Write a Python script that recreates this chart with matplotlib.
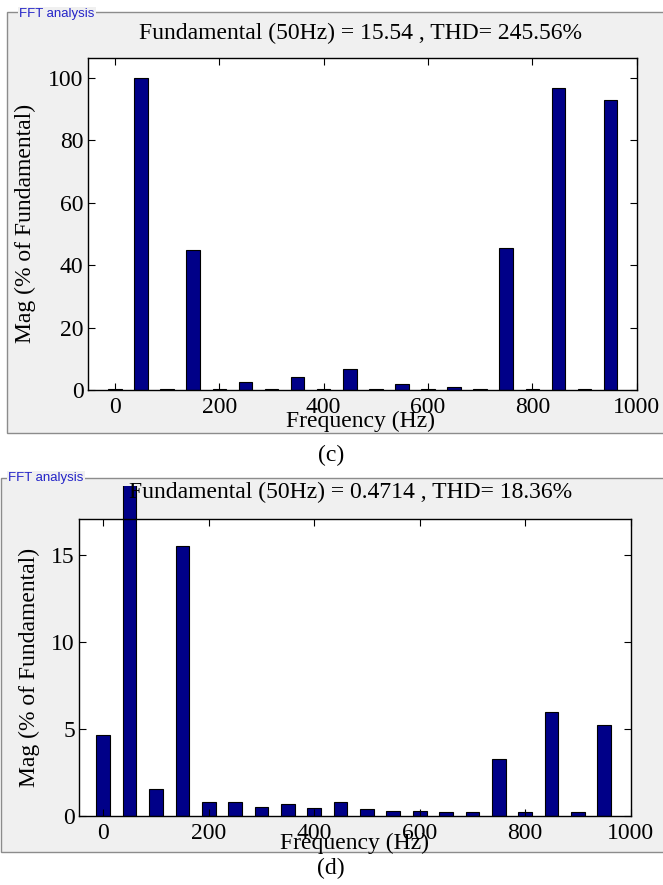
import matplotlib
matplotlib.use('Agg')
import matplotlib.pyplot as plt
from matplotlib.patches import Rectangle
from matplotlib.transforms import Bbox
import numpy as np

# harmonic frequencies (Hz)
freq = [0, 50, 100, 150, 200, 250, 300, 350, 400, 450,
        500, 550, 600, 650, 700, 750, 800, 850, 900, 950]

# (c) magnitudes, % of fundamental
mag_c = [0.4, 100, 0.3, 44.7, 0.3, 2.5, 0.3, 4.3, 0.3, 6.6,
         0.3, 2.0, 0.3, 1.0, 0.3, 45.6, 0.3, 96.8, 0.3, 92.8]
# (d) magnitudes, % of fundamental (50 Hz bar runs off the axes)
mag_d = [4.65, 100, 1.55, 15.5, 0.80, 0.80, 0.52, 0.67, 0.46, 0.80,
         0.38, 0.31, 0.31, 0.23, 0.23, 3.25, 0.23, 5.95, 0.23, 5.22]

title_c = "Fundamental (50Hz) = 15.54 , THD= 245.56%"
title_d = "Fundamental (50Hz) = 0.4714 , THD= 18.36%"

W, H = 663, 885
plt.rcParams['font.family'] = ['Liberation Serif', 'DejaVu Serif']

fig = plt.figure(figsize=(W / 100, H / 100), dpi=100)
fig.patch.set_facecolor('white')

def px_rect(x0, y0, x1, y1):
    # figure-fraction rect from pixel coords (origin top-left)
    return [x0 / W, 1 - y1 / H, (x1 - x0) / W, (y1 - y0) / H]

def group_box(x0, y0, x1, y1, lx, ly):
    r = px_rect(x0, y0, x1, y1)
    fig.add_artist(Rectangle((r[0], r[1]), r[2], r[3], transform=fig.transFigure,
                             facecolor='#f0f0f0', edgecolor='#8c8c8c', lw=1.0, zorder=0))
    fig.text(lx / W, 1 - ly / H, "FFT analysis", family='Liberation Sans', fontsize=9.5,
             color='#2424c8', ha='left', va='center', zorder=1,
             bbox=dict(facecolor='#f0f0f0', edgecolor='none', pad=1.0))

group_box(7, 12, 680, 432.7, 19, 14)
group_box(1, 478, 680, 852, 8, 478)

fig.text(331 / W, 1 - 455 / H, "(c)", fontsize=17, ha='center', va='center')
fig.text(331 / W, 1 - 868 / H, "(d)", fontsize=17, ha='center', va='center')

ax1 = fig.add_axes(px_rect(87.7, 57.7, 636.7, 390))
ax2 = fig.add_axes(px_rect(79, 519.3, 630.7, 816))

panels = [(ax1, mag_c, title_c, (-52.3, 1000), (0, 106.4), [0, 20, 40, 60, 80, 100],
           (0.496, 1.074), (-0.114, 0.5), (0.496, -0.096)),
          (ax2, mag_d, title_d, (-46, 1000), (0, 17.02), [0, 5, 10, 15],
           (0.493, 1.092), (-0.089, 0.5), (0.5, -0.091))]

for ax, mag, ttl, xl, yl, yt, tpos, ylpos, xlpos in panels:
    ax.set_zorder(2)
    ax.bar(freq, mag, width=26, color='#000088', edgecolor='black', lw=0.8)
    ax.set_xlim(xl)
    ax.set_ylim(yl)
    ax.set_xticks([0, 200, 400, 600, 800, 1000])
    ax.set_yticks(yt)
    ax.tick_params(direction='in', top=True, right=True, length=5, width=0.8,
                   labelsize=17)
    ax.tick_params(axis='x', pad=5)
    ax.tick_params(axis='y', pad=3)
    for s in ax.spines.values():
        s.set_linewidth(1.0)
    ax.text(tpos[0], tpos[1], ttl, transform=ax.transAxes, fontsize=17,
            ha='center', va='center')
    ax.set_ylabel("Mag (% of Fundamental)", fontsize=17, va='center')
    ax.yaxis.set_label_coords(*ylpos)
    ax.set_xlabel("Frequency (Hz)", fontsize=17, va='center')
    ax.xaxis.set_label_coords(*xlpos)

# the 50 Hz bar of (d) runs up past the axes into the panel
clip = Bbox.from_extents(0, H - 816, W, H - 485.7)
b = ax2.patches[1]
b.set_clip_box(clip)
b.set_clip_path(None)

fig.savefig('out.png', dpi=100, facecolor='white')
